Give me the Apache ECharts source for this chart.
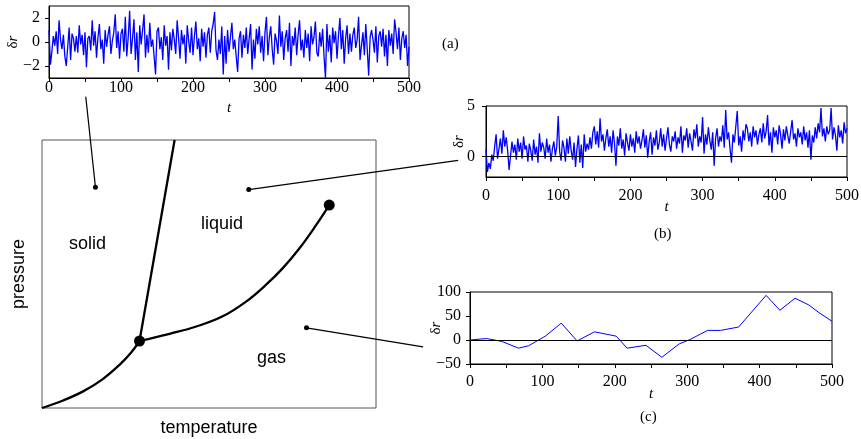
<!DOCTYPE html>
<html><head><meta charset="utf-8">
<script src="https://cdn.jsdelivr.net/npm/echarts@6/dist/echarts.min.js"></script>
<style>html,body{margin:0;padding:0;background:#fff}#c{width:861px;height:439px}</style>
</head><body><div id="c"></div>
<script>
// ---- inset (a): solid phase fluctuations, sampled every 2 time units ----
const abStep = 2;
const aValues = [
 1.0,-1.9,-0.8,0.5,-0.3,0.9,-1.0,1.8,0.2,-0.6,
 0.6,-1.2,-2.0,-0.4,1.2,-1.5,0.7,0.3,-0.8,0.5,
 -0.9,1.4,-0.2,0.6,-1.1,0.8,-2.1,0.3,0.5,-0.7,
 1.8,-0.3,0.9,-1.3,0.4,1.5,-0.6,0.2,-1.8,1.0,
 -0.4,0.6,1.3,-1.0,0.1,0.8,2.3,-0.5,0.9,-1.4,
 0.7,1.1,-0.8,2.1,-1.2,0.4,2.6,-1.0,0.3,1.9,
 -1.5,0.8,-2.5,1.4,-0.2,1.0,2.3,-1.3,0.6,-0.9,
 1.6,-0.4,0.2,-1.2,-2.7,0.9,1.2,-0.6,0.4,-1.5,
 1.4,-0.3,0.5,-2.3,0.8,-0.7,1.1,0.2,-1.0,1.8,
 0.3,-1.4,1.0,-0.2,0.6,-1.8,1.4,0.1,-0.9,1.2,
 -1.1,0.5,1.7,-0.6,0.3,-1.6,1.1,-0.4,0.8,-1.3,
 0.6,1.2,-0.9,0.9,1.5,2.5,-0.7,-1.5,0.2,-1.0,
 1.3,-2.7,0.5,-1.8,1.0,-0.8,0.4,1.6,-0.6,0.2,
 -1.2,-2.5,0.3,0.9,-1.3,0.6,-0.5,1.2,-1.0,0.3,
 1.5,-2.3,0.2,-1.4,1.1,-0.2,1.3,-0.9,0.5,-1.6,
 0.8,2.1,-1.1,0.4,1.3,-0.6,-1.9,0.7,0.1,-1.0,
 2.2,-0.4,0.9,-1.5,0.3,1.0,-0.8,1.6,-2.0,0.5,
 -0.3,1.2,-1.1,0.6,1.8,-0.7,0.2,-1.3,1.0,-0.5,
 0.7,-1.6,1.3,-0.2,0.4,1.7,-0.9,-1.2,0.8,-0.4,
 1.1,-1.2,-3.0,1.5,-0.8,0.6,-1.7,1.2,-0.1,0.9,
 -1.4,0.5,2.0,-0.6,1.0,-1.8,0.3,1.4,-1.0,0.7,
 -0.8,0.6,1.2,-0.5,0.2,2.1,-1.5,-0.3,0.8,-1.1,
 1.5,-0.6,-2.8,0.4,1.0,0.2,-0.9,1.3,-1.7,0.5,
 0.9,-0.4,1.1,-1.2,0.6,-2.0,1.0,-0.3,0.7,-1.0,
 1.9,0.8,-0.6,1.2,-1.5,0.3,0.9,-0.5,0.6,-2.0,
 -0.4
];
// ---- inset (b): liquid phase fluctuations ----
const bValues = [
 0.7,-1.5,-0.6,-1.2,0.2,-0.4,1.0,2.2,-0.2,0.8,
 1.8,0.3,2.6,1.0,1.9,0.6,-1.3,-1.3,1.5,0.4,
 1.2,-0.3,1.8,0.5,1.4,-0.2,2.0,0.7,1.1,-0.5,
 1.3,0.6,-0.4,1.7,0.2,1.0,-0.6,2.3,0.5,1.4,
 0.9,-0.2,1.8,0.4,1.2,-0.5,0.8,1.5,0.1,1.0,
 4.0,0.5,-0.4,1.6,0.9,-0.5,1.8,0.3,2.0,0.6,
 -0.3,1.4,-1.0,0.8,2.1,-0.6,1.2,-1.1,2.2,0.5,
 1.3,0.7,1.9,0.8,2.4,3.0,1.2,2.5,0.9,3.8,
 1.5,2.2,0.6,1.8,2.7,1.0,2.0,0.4,2.6,1.3,
 -0.9,2.0,1.1,2.8,0.8,1.7,0.1,2.3,1.4,0.6,
 2.2,1.0,1.8,0.4,2.5,1.3,2.0,0.8,1.6,2.7,
 0.9,2.1,-0.1,1.5,2.4,0.2,1.9,1.1,2.6,0.7,
 1.4,2.8,1.0,2.2,0.6,1.8,2.9,1.2,0.5,2.0,
 1.5,2.5,0.8,1.9,1.3,3.0,0.4,2.1,1.6,2.8,
 0.9,2.3,1.5,0.6,2.7,1.8,3.2,1.0,2.0,1.4,
 3.9,0.3,2.2,1.2,2.9,1.6,0.7,2.4,-0.9,1.8,
 2.8,1.0,2.0,1.5,3.1,0.9,4.6,1.7,2.4,0.8,
 -0.6,2.2,1.4,3.0,4.5,1.1,2.0,0.5,2.6,1.6,
 3.2,2.8,1.5,2.4,1.0,3.0,1.9,2.6,1.2,2.2,
 2.8,1.4,3.3,1.8,2.5,4.1,1.1,2.4,0.4,2.9,
 1.9,2.6,1.2,3.1,2.2,0.8,2.7,1.6,3.0,2.1,
 1.3,2.5,3.6,1.7,2.3,1.0,2.8,1.9,2.4,1.2,
 3.0,1.6,2.4,0.9,2.6,-0.3,2.1,1.4,2.9,1.8,
 3.3,2.4,4.8,2.0,2.8,1.5,3.0,2.2,2.6,4.8,
 1.7,2.9,2.1,0.6,3.1,1.9,2.6,1.3,3.4,2.3,
 2.8
];
// ---- inset (c): gas phase ----
const cT = [0,23,44,67,81,104,126,148,172,202,217,243,265,289,304,328,346,371,409,428,449,468,482,500];
const cV = [0,3,-3,-17,-12,8,35,-2,17,8,-17,-11,-36,-8,1,20,20,27,93,62,87,73,57,39];

// ---- main phase diagram (temperature, pressure in 0..100 units) ----
const sublimT = [0,6.3,12.3,18.2,23.2,26.7,29.2];
const sublimP = [0,2.8,6.2,10.8,16.1,20.7,25.0];
const vaporT = [29.2,38.2,46.2,54.1,61.1,67.1,72.1,77.1,82.1,86.0];
const vaporP = [25.0,27.7,30.4,34.2,39.7,46.0,52.2,59.6,68.3,75.7];
const meltT = [29.2,39.7];
const meltP = [25.0,100];
const specialPts = [[29.2,25.0],[86.0,75.7]];     // triple point, critical point
const samplePts = [[16.0,82.4],[61.9,81.5],[79.2,29.9]]; // solid, liquid, gas states
const linkEnds = [[13.1,116.2],[124.6,92.4],[114.1,22.8]];

const tickLabelsA = [-2,0,2], tickLabelsB = [0,5];

const serif = "'Liberation Serif','DejaVu Serif',serif";
const sans = "'Liberation Sans',Arial,'DejaVu Sans',sans-serif";
const zip = (xs, ys) => xs.map((x,i)=>[x, ys[i]]);
const series2 = vals => vals.map((v,i)=>[i*abStep, v]);
const fmtNum = v => v < 0 ? '\u2212' + (-v) : String(v);
const FS = 16;

function xInset(gi, margin, gap){
  return {gridIndex:gi, type:'value', min:0, max:500, interval:50,
    axisLine:{show:true, onZero:false, lineStyle:{color:'#000', width:1}},
    axisTick:{show:true, length:4, lineStyle:{color:'#000'}},
    axisLabel:{margin:margin, color:'#000', fontFamily:serif, fontSize:FS,
      formatter: v => v % 100 === 0 ? String(v) : ''},
    splitLine:{show:false},
    name:'t', nameLocation:'middle', nameGap:gap, nameMoveOverlap:false,
    nameTextStyle:{fontFamily:serif, fontStyle:'italic', fontSize:15, color:'#000'}};
}
function yInset(gi, min, max, custom, interval, gap, lmargin){
  const y = {gridIndex:gi, type:'value', min:min, max:max,
    axisLine:{show:true, onZero:false, lineStyle:{color:'#000', width:1}},
    axisTick:{show:true, length:4, lineStyle:{color:'#000'}},
    axisLabel:{margin:lmargin, color:'#000', fontFamily:serif, fontSize:FS, formatter: fmtNum},
    splitLine:{show:false},
    name:'{d|\u03b4}{r|r}', nameLocation:'middle', nameGap:gap, nameMoveOverlap:false,
    nameTextStyle:{color:'#000', rich:{
      d:{fontFamily:serif, fontSize:15, color:'#000'},
      r:{fontFamily:serif, fontSize:15, fontStyle:'italic', color:'#000'}}}};
  if (custom){ y.axisLabel.customValues = custom; y.axisTick.customValues = custom; }
  if (interval){ y.interval = interval; }
  return y;
}
const zeroLine = {silent:true, symbol:['none','none'], label:{show:false},
  lineStyle:{color:'#000', width:1, type:'solid'}, data:[{yAxis:0}]};

const chart = echarts.init(document.getElementById('c'), null, {renderer:'canvas'});
const gridBase = {show:true, borderColor:'#000', borderWidth:1, backgroundColor:'transparent', containLabel:false, outerBoundsMode:'none'};
const texts = [
  {type:'text', left:69, top:235, style:{text:'solid', font:"18px "+sans, fill:'#000'}},
  {type:'text', left:201, top:215, style:{text:'liquid', font:"18px "+sans, fill:'#000'}},
  {type:'text', left:257, top:349, style:{text:'gas', font:"18px "+sans, fill:'#000'}},
  {type:'text', left:442, top:37, style:{text:'(a)', font:"15px "+serif, fill:'#000'}},
  {type:'text', left:654, top:227, style:{text:'(b)', font:"15px "+serif, fill:'#000'}},
  {type:'text', left:640, top:410, style:{text:'(c)', font:"15px "+serif, fill:'#000'}}
];
chart.setOption({
  animation:false,
  backgroundColor:'#fff',
  grid:[
    Object.assign({left:49, top:6, width:360, height:72}, gridBase),
    Object.assign({left:486, top:106, width:361, height:71}, gridBase),
    Object.assign({left:470, top:292, width:362, height:72}, gridBase),
    Object.assign({}, gridBase, {left:42, top:140, width:334, height:268, borderColor:'#555'})
  ],
  xAxis:[
    xInset(0, 2, 23),
    xInset(1, 11, 23),
    xInset(2, 10, 23),
    {gridIndex:3, type:'value', min:0, max:100, axisLine:{show:false}, axisTick:{show:false},
     axisLabel:{show:false}, splitLine:{show:false},
     name:'temperature', nameLocation:'middle', nameGap:11,
     nameTextStyle:{fontFamily:sans, fontSize:18, color:'#000', verticalAlign:'top'}}
  ],
  yAxis:[
    yInset(0, -3, 3, tickLabelsA, null, 28, 9),
    yInset(1, -2, 5, tickLabelsB, null, 19, 11),
    yInset(2, -50, 100, null, 50, 26, 9),
    {gridIndex:3, type:'value', min:0, max:100, axisLine:{show:false}, axisTick:{show:false},
     axisLabel:{show:false}, splitLine:{show:false},
     name:'pressure', nameLocation:'middle', nameGap:14,
     nameTextStyle:{fontFamily:sans, fontSize:18, color:'#000'}}
  ],
  series:[
    {type:'line', xAxisIndex:0, yAxisIndex:0, data:series2(aValues), showSymbol:false,
     lineStyle:{color:'#0000ff', width:1.3}},
    {type:'line', xAxisIndex:1, yAxisIndex:1, data:series2(bValues), showSymbol:false,
     lineStyle:{color:'#0000ff', width:1.3}, markLine:zeroLine, z:3},
    {type:'line', xAxisIndex:2, yAxisIndex:2, data:zip(cT,cV), showSymbol:false,
     lineStyle:{color:'#0000ff', width:1}, markLine:zeroLine},
    {type:'line', xAxisIndex:3, yAxisIndex:3, data:zip(sublimT,sublimP), smooth:0.4, showSymbol:false,
     lineStyle:{color:'#000', width:2.3}},
    {type:'line', xAxisIndex:3, yAxisIndex:3, data:zip(vaporT,vaporP), smooth:0.4, showSymbol:false,
     lineStyle:{color:'#000', width:2.3}},
    {type:'line', xAxisIndex:3, yAxisIndex:3, data:zip(meltT,meltP), showSymbol:false,
     lineStyle:{color:'#000', width:2.3}},
    {type:'scatter', xAxisIndex:3, yAxisIndex:3, data:specialPts, symbolSize:11,
     itemStyle:{color:'#000', opacity:1}, z:5},
    {type:'scatter', xAxisIndex:3, yAxisIndex:3, data:samplePts, symbolSize:5,
     itemStyle:{color:'#000', opacity:1}, z:5}
  ],
  graphic: texts
});
// connector lines from the state points in the phase diagram towards the insets
const links = samplePts.map((p,i)=>{
  const a = chart.convertToPixel({gridIndex:3}, p);
  const b = chart.convertToPixel({gridIndex:3}, linkEnds[i]);
  return {type:'line', shape:{x1:a[0], y1:a[1], x2:b[0], y2:b[1]},
    style:{stroke:'#000', lineWidth:1.2}, z:4};
});
chart.setOption({graphic: texts.concat(links)});
</script></body></html>
